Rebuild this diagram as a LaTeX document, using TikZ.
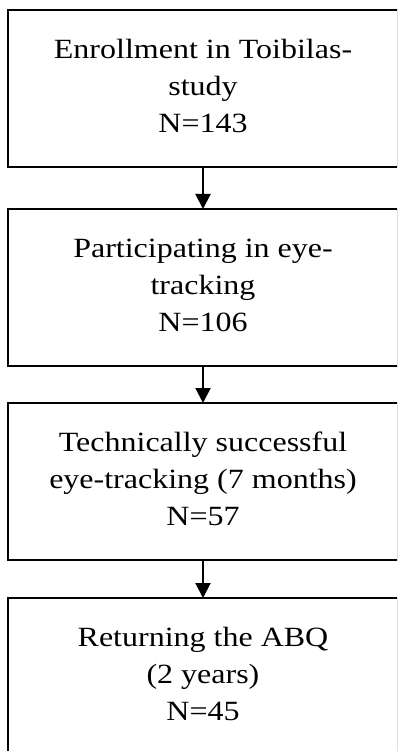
\documentclass[tikz,border=0pt]{standalone}
\usepackage{fontspec}
\setmainfont{Liberation Serif}
\usepackage{tikz}
\usetikzlibrary{arrows.meta,positioning}
\newcommand{\stagetext}[1]{\raisebox{-3pt}{\scalebox{1}[.87]{\begin{tabular}{@{}c@{}}#1\end{tabular}}}}
\tikzstyle{stage}=[
  draw=black,
  font={\fontsize{32}{42.5}\selectfont},
  inner sep=0pt,
  line width=2pt,
  minimum height=157pt,
  minimum width=390pt,
  outer sep=0pt,
  rectangle,
  text centered,
]
\tikzstyle{arrow}=[
  color=black,
  draw=black,
  line width=2pt,
]
\tikzset{
  >={Triangle[width=15pt,length=15pt]},
}
\begin{document}
\begin{tikzpicture}[x=1pt,y=1pt]
  \useasboundingbox (0,0) rectangle (397,-751);
  \clip (0,0) rectangle (397,-751);
  \node (enroll) [stage] at (203,-88.5) {\stagetext{Enrollment in Toibilas-\\study\\N=143}};
  \node (eyetrack) [stage, below=42pt of enroll] {\stagetext{Participating in eye-\\tracking\\N=106}};
  \node (success) [stage, below=37pt of eyetrack] {\stagetext{Technically successful\\eye-tracking (7 months)\\N=57}};
  \node (abq) [stage, below=38pt of success] {\stagetext{Returning the ABQ\\(2 years)\\N=45}};
  \draw [->, arrow] (enroll) -- (eyetrack);
  \draw [->, arrow] (eyetrack) -- (success);
  \draw [->, arrow] (success) -- (abq);
\end{tikzpicture}
\end{document}
